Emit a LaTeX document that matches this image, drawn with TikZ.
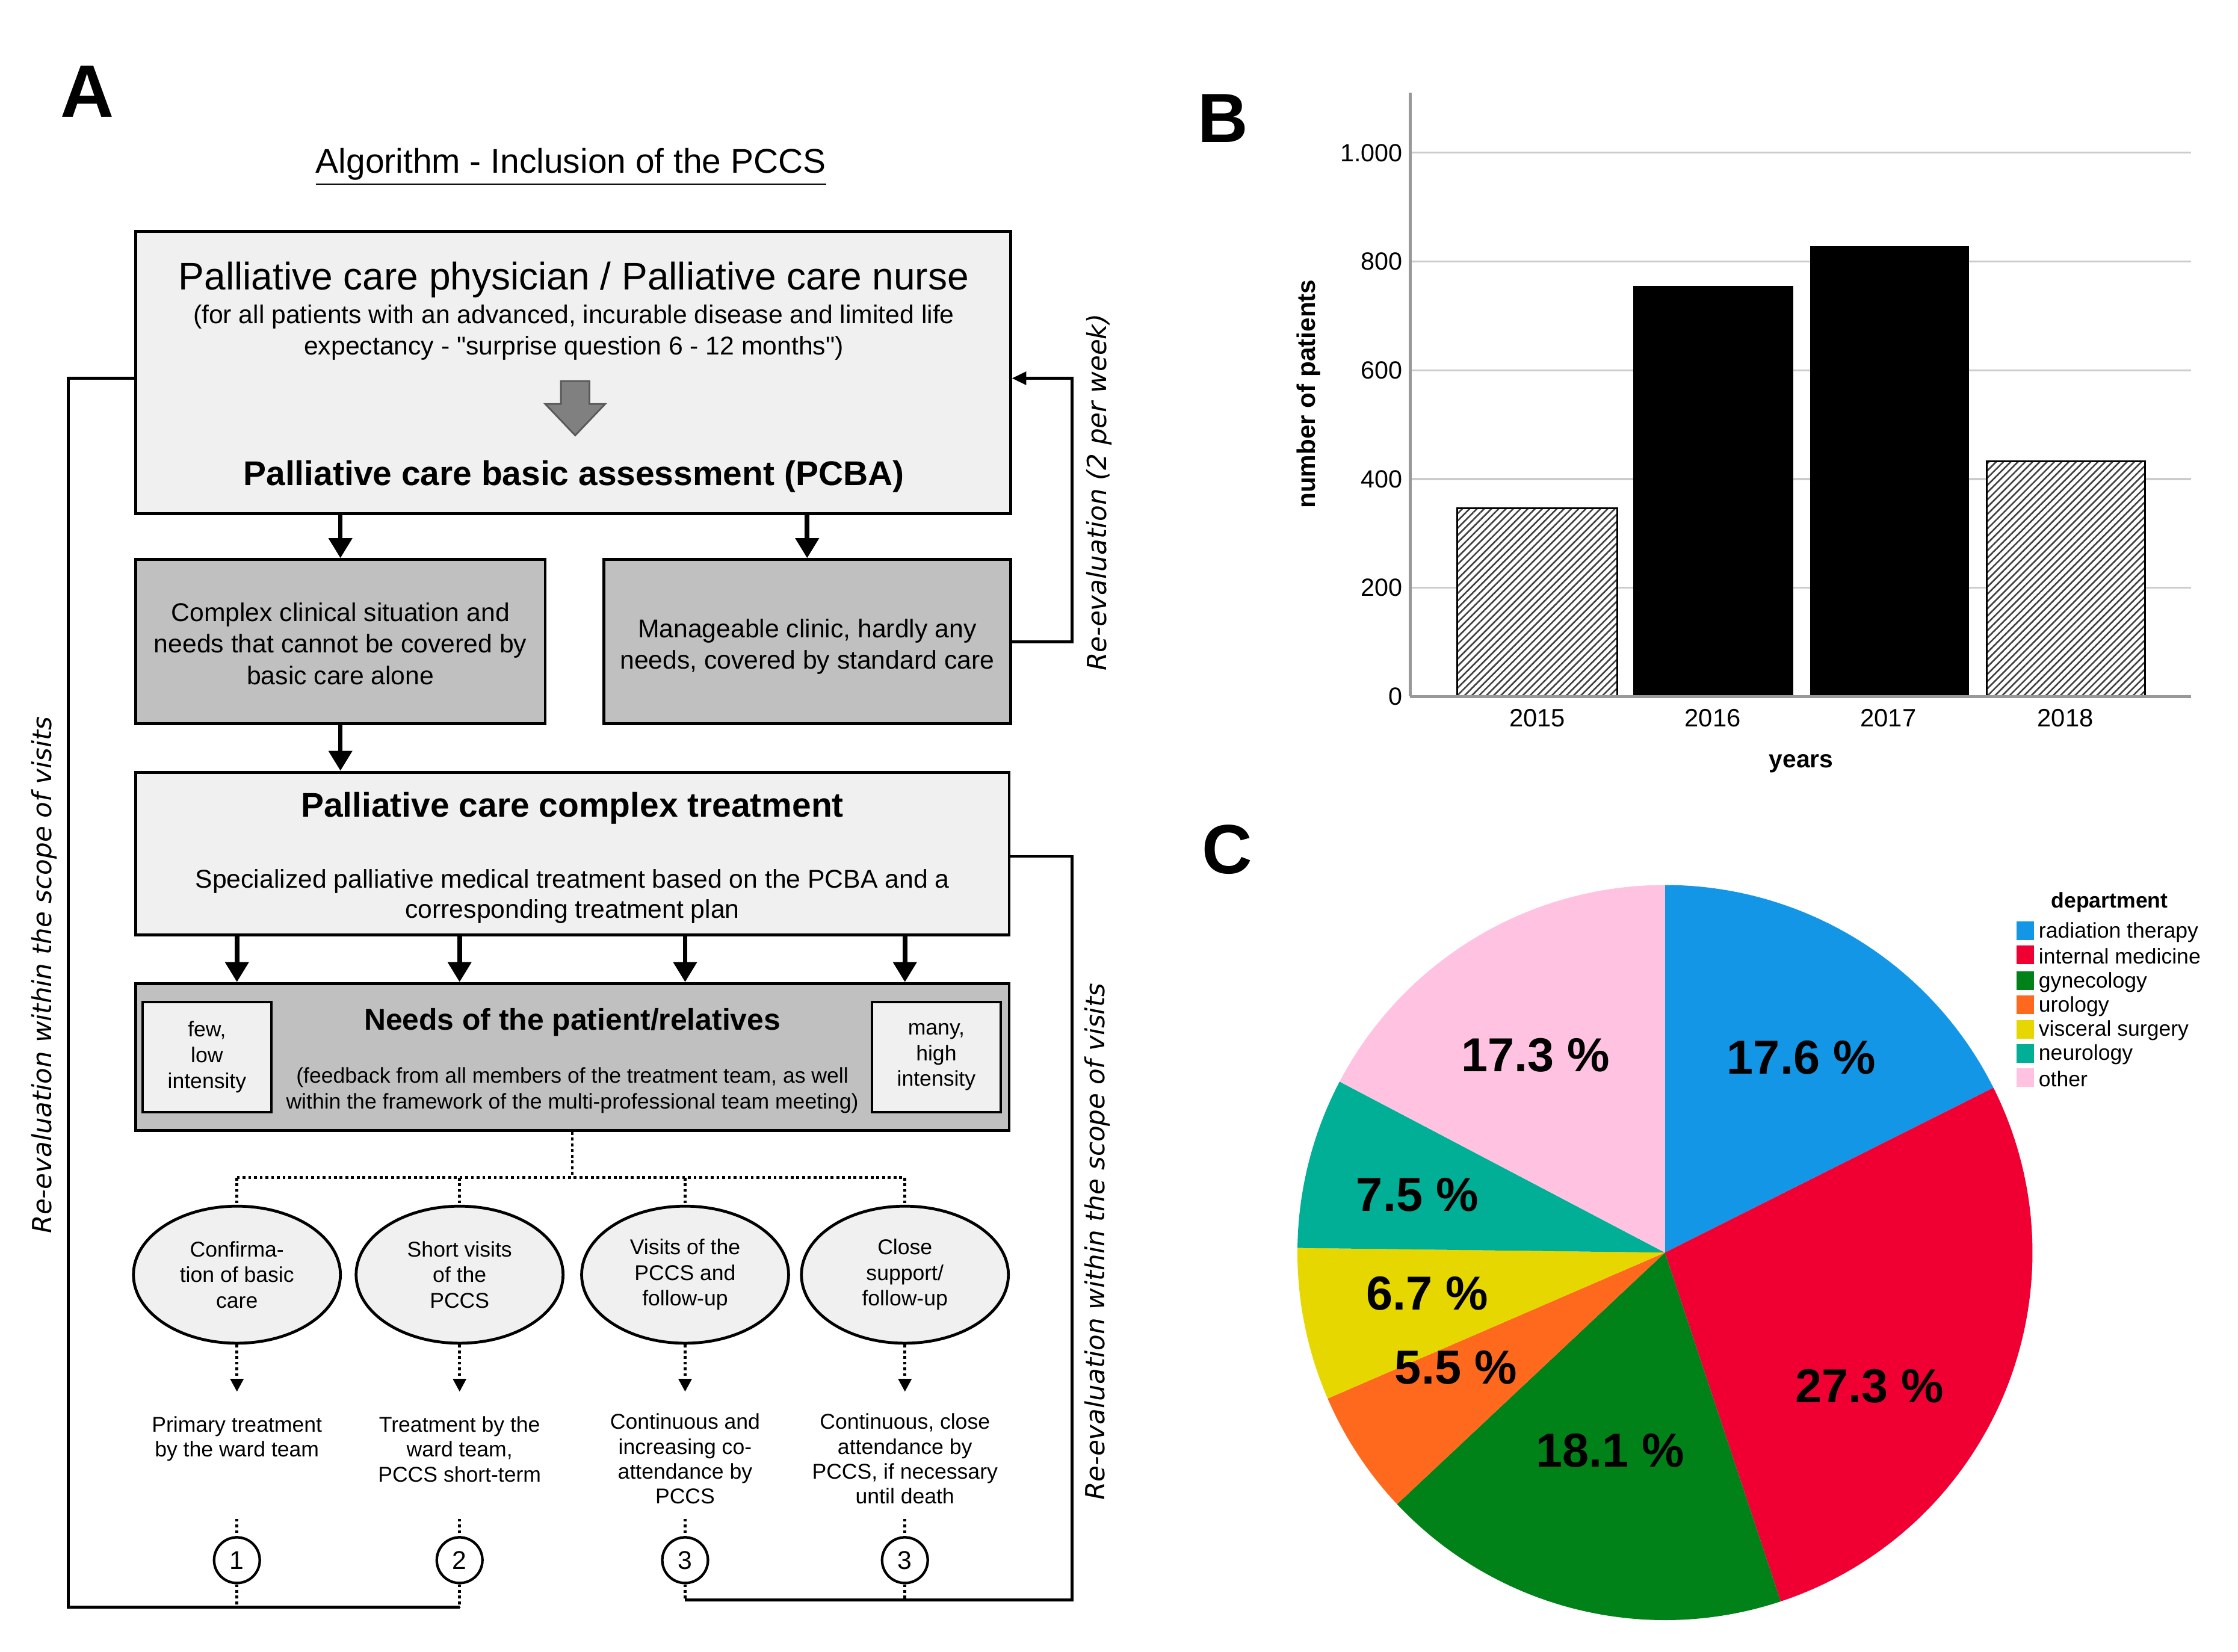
\documentclass[tikz,border=0pt]{standalone}
\usepackage{fontspec}
\setmainfont{Liberation Sans}[Ligatures=TeXOff]
\newfontfamily\dejavu{DejaVu Sans}
\usetikzlibrary{arrows.meta,patterns.meta,shapes.geometric}
\newcommand\fsz[2]{\fontsize{#1}{#2}\selectfont}
\definecolor{boxlight}{HTML}{F0F0F0}
\definecolor{boxdark}{HTML}{C0C0C0}
\definecolor{arrowgray}{HTML}{808080}
\definecolor{gridgray}{HTML}{CCCCCC}
\definecolor{axisgray}{HTML}{999999}
\definecolor{cblue}{HTML}{1496E6}
\definecolor{cred}{HTML}{F00032}
\definecolor{cgreen}{HTML}{008219}
\definecolor{corange}{HTML}{FF691E}
\definecolor{cyellow}{HTML}{E6D700}
\definecolor{cteal}{HTML}{00AF96}
\definecolor{cpink}{HTML}{FFC3E1}
\begin{document}
\begin{tikzpicture}[x=0.5pt,y=-0.5pt,
  lbox/.style={draw, line width=1pt, fill=boxlight, inner sep=0pt},
  dbox/.style={draw, line width=1pt, fill=boxdark, inner sep=0pt},
  txt/.style={inner sep=0pt, align=center},
  bigarrow/.style={line width=1.6pt, -{Triangle[length=7pt,width=8pt]}},
  loopline/.style={line width=1pt},
  dots/.style={densely dotted, line width=1pt},
  dotarrow/.style={densely dotted, line width=1pt, -{Triangle[length=4.5pt,width=4.5pt]}},
  ell/.style={ellipse, draw, line width=1pt, fill=boxlight, minimum width=72.5pt, minimum height=48pt, inner sep=0pt, align=center, font=\fsz{7.5}{9}},
  numc/.style={circle, draw, line width=0.9pt, fill=white, minimum size=16pt, inner sep=0pt, font=\fsz{9}{10}},
  smallbox/.style={draw, line width=0.9pt, fill=boxlight, minimum width=45pt, minimum height=38.5pt, inner sep=0pt, align=center, font=\fsz{7.5}{9}},
  undertext/.style={inner sep=0pt, align=center, anchor=north, font=\fsz{7.5}{8.7}},
  rottext/.style={inner sep=0pt, rotate=90, font=\dejavu\itshape\fsz{9.2}{11}},
  ticklab/.style={inner sep=0pt, anchor=east, font=\fsz{8.7}{10}},
  yearlab/.style={inner sep=0pt, font=\fsz{8.8}{10}},
  pielab/.style={inner sep=0pt, font=\bfseries\fsz{16.7}{18}},
  leglab/.style={inner sep=0pt, anchor=west, font=\fsz{7.5}{8.5}},
  hatchbar/.style={draw=black, line width=0.6pt, preaction={fill=white}, pattern={Lines[angle=45,distance=1.8pt,line width=0.55pt]}, pattern color=black!75},
  panel/.style={inner sep=0pt, font=\bfseries\fsz{25}{28}}
]
\useasboundingbox (0,0) rectangle (1568,1157);

% ---------------- Panel A ----------------
\node[panel, font=\bfseries\fsz{26}{28}] (pA) at (61,64) {A};
\node[txt, font=\fsz{12}{14}] (ttl) at (400,117) {\underline{Algorithm - Inclusion of the PCCS}};

\node[lbox, minimum width=306.5pt, minimum height=99pt] (b1) at (401.5,261) {};
\node[txt, font=\fsz{13.5}{15}] (t1a) at (402,196) {Palliative care physician / Palliative care nurse};
\node[txt, font=\fsz{9}{11}] (t1b) at (402,233) {(for all patients with an advanced, incurable disease and limited life\\expectancy - "surprise question 6 - 12 months")};
\filldraw[fill=arrowgray, draw=black!65, line width=0.6pt] (393,267) -- (413,267) -- (413,283) -- (424,283) -- (403,305) -- (382,283) -- (393,283) -- cycle;
\node[txt, font=\bfseries\fsz{12}{14}] (t1c) at (402,334) {Palliative care basic assessment (PCBA)};

\node[dbox, minimum width=143.5pt, minimum height=57.5pt] (b2) at (238.5,449.5) {};
\node[txt, font=\fsz{9}{11}] (t2) at (238.5,451) {Complex clinical situation and\\needs that cannot be covered by\\basic care alone};
\node[dbox, minimum width=142.5pt, minimum height=57.5pt] (b3) at (565.5,449.5) {};
\node[txt, font=\fsz{9}{11}] (t3) at (565.5,453) {Manageable clinic, hardly any\\needs, covered by standard care};

\node[lbox, minimum width=306pt, minimum height=57pt] (b4) at (401,598) {};
\node[txt, font=\bfseries\fsz{12}{14}] (t4a) at (401,566) {Palliative care complex treatment};
\node[txt, font=\fsz{9}{10.5}] (t4b) at (401,628) {Specialized palliative medical treatment based on the PCBA and a\\corresponding treatment plan};

\node[dbox, minimum width=306pt, minimum height=51.5pt] (b5) at (401,740.5) {};
\node[smallbox] (fl) at (145,740.5) {few,\\low\\intensity};
\node[smallbox] (fr) at (656,740.5) {many,\\high\\intensity};
\node[txt, font=\bfseries\fsz{10.5}{12}] (t5a) at (401,716) {Needs of the patient/relatives};
\node[txt, font=\fsz{7.5}{9}] (t5b) at (401,764) {(feedback from all members of the treatment team, as well\\within the framework of the multi-professional team meeting)};

\node[ell] (e1) at (166,893) {Confirma-\\tion of basic\\care};
\node[ell] (e2) at (322,893) {Short visits\\of the\\PCCS};
\node[ell] (e3) at (480,893) {Visits of the\\PCCS and\\follow-up};
\node[ell] (e4) at (634,893) {Close\\support/\\follow-up};

\node[undertext] (d1) at (166,992) {Primary treatment\\by the ward team};
\node[undertext] (d2) at (322,992) {Treatment by the\\ward team,\\PCCS short-term};
\node[undertext] (d3) at (480,990) {Continuous and\\increasing co-\\attendance by\\PCCS};
\node[undertext] (d4) at (634,990) {Continuous, close\\attendance by\\PCCS, if necessary\\until death};

\node[numc] (c1) at (166,1093) {1};
\node[numc] (c2) at (322,1093) {2};
\node[numc] (c3) at (480,1093) {3};
\node[numc] (c4) at (634,1093) {3};

% main arrows
\draw[bigarrow] (b2.north |- b1.south) -- (b2.north);
\draw[bigarrow] (b3.north |- b1.south) -- (b3.north);
\draw[bigarrow] (b2.south) -- (b2.south |- b4.north);
\foreach \e in {e1,e2,e3,e4}{
  \draw[bigarrow] (\e |- b4.south) -- (\e |- b5.north);
}

% re-evaluation 2 per week
\coordinate (rv1) at (751,265);
\draw[loopline, -{Triangle[length=5pt,width=4.5pt]}] (b3.east) -| (rv1) -- (b1.east |- rv1);
\node[rottext] (rvm) at (770,345) {Re-evaluation (2 per week)};

% dotted tree
\coordinate (tr) at (401,825);
\draw[dots] (b5.south) -- (tr);
\draw[dots] (e1 |- tr) -- (e4 |- tr);
\foreach \e in {e1,e2,e3,e4}{
  \draw[dots] (\e |- tr) -- (\e.north);
}

% dotted arrows ellipse -> text, text -> number
\coordinate (arw) at (0,975);
\coordinate (qtop) at (0,1064);
\foreach \e/\c in {e1/c1,e2/c2,e3/c3,e4/c4}{
  \draw[dotarrow] (\e.south) -- (\e |- arw);
  \draw[dots] (\c |- qtop) -- (\c.north);
}

% left loop
\coordinate (ll) at (48,1126);
\coordinate (lt) at (48,265);
\draw[dots] (c1.south) -- (c1 |- ll);
\draw[dots] (c2.south) -- (c2 |- ll);
\draw[loopline] (c2 |- ll) -- (ll) -- (lt) -- (b1.west |- lt);
\node[rottext] (rvl) at (31,683) {Re-evaluation within the scope of visits};

% right loop
\coordinate (rl) at (751,1121);
\coordinate (rt) at (751,600);
\draw[dots] (c3.south) -- (c3 |- rl);
\draw[dots] (c4.south) -- (c4 |- rl);
\draw[loopline] (c3 |- rl) -- (rl) -- (rt) -- (b4.east |- rt);
\node[rottext] (rvr) at (769,870) {Re-evaluation within the scope of visits};

% ---------------- Panel B ----------------
\node[panel, font=\bfseries\fsz{24.4}{27}] (pB) at (857,83) {B};
\foreach \v/\yy/\lab in {200/411.8/200,400/335.6/400,600/259.4/600,800/183.2/800,1000/107/1.000}{
  \draw[gridgray, line width=0.7pt] (988,\yy) -- (1535,\yy);
  \node[ticklab] (tk\v) at (983,\yy) {\lab};
}
\node[ticklab] (tk0) at (983,488) {0};
\filldraw[hatchbar] (1021,488) rectangle (1133,356);
\filldraw[fill=black, draw=black, line width=0.6pt] (1145,488) rectangle (1256,201);
\filldraw[fill=black, draw=black, line width=0.6pt] (1269,488) rectangle (1379,173);
\filldraw[hatchbar] (1392,488) rectangle (1503,323);
\draw[axisgray, line width=1pt] (988,65) -- (988,488);
\draw[axisgray, line width=1.2pt] (988,488) -- (1535,488);
\node[yearlab] (y15) at (1077,503) {2015};
\node[yearlab] (y16) at (1200,503) {2016};
\node[yearlab] (y17) at (1323,503) {2017};
\node[yearlab] (y18) at (1447,503) {2018};
\node[inner sep=0pt, font=\bfseries\fsz{8.6}{10}] (xl) at (1262,535) {years};
\node[inner sep=0pt, rotate=90, font=\bfseries\fsz{8.9}{10}] (yl) at (917,276) {number of patients};

% ---------------- Panel C ----------------
\node[panel, font=\bfseries\fsz{24.4}{27}] (pC) at (860,595) {C};
\coordinate (pc) at (1166.5,877.5);
\fill[cblue]   (pc) -- ++(-90:257.5)   arc[start angle=-90,   end angle=-26.64, radius=257.5] -- cycle;
\fill[cred]    (pc) -- ++(-26.64:257.5) arc[start angle=-26.64, end angle=71.64,  radius=257.5] -- cycle;
\fill[cgreen]  (pc) -- ++(71.64:257.5)  arc[start angle=71.64,  end angle=136.8,  radius=257.5] -- cycle;
\fill[corange] (pc) -- ++(136.8:257.5)  arc[start angle=136.8,  end angle=156.6,  radius=257.5] -- cycle;
\fill[cyellow] (pc) -- ++(156.6:257.5)  arc[start angle=156.6,  end angle=180.72, radius=257.5] -- cycle;
\fill[cteal]   (pc) -- ++(180.72:257.5) arc[start angle=180.72, end angle=207.72, radius=257.5] -- cycle;
\fill[cpink]   (pc) -- ++(207.72:257.5) arc[start angle=207.72, end angle=270,    radius=257.5] -- cycle;
\node[pielab] (p1) at (1262,741) {17.6 \%};
\node[pielab] (p2) at (1310,971) {27.3 \%};
\node[pielab] (p3) at (1128,1016) {18.1 \%};
\node[pielab] (p4) at (1020,958) {5.5 \%};
\node[pielab] (p5) at (1000,906) {6.7 \%};
\node[pielab] (p6) at (993,837) {7.5 \%};
\node[pielab] (p7) at (1076,739) {17.3 \%};

% legend
\node[inner sep=0pt, font=\bfseries\fsz{7.5}{8.5}] (lgt) at (1478,632) {department};
\foreach \col/\yy/\lab/\n in {cblue/652/radiation therapy/1, cred/669/internal medicine/2, cgreen/687/gynecology/3, corange/704/urology/4, cyellow/721/visceral surgery/5, cteal/738/neurology/6, cpink/755/other/7}{
  \fill[\col] (1413,\yy-6.5) rectangle (1425,\yy+6.5);
  \node[leglab] (lg\n) at (1428,\yy+1) {\lab};
}
\end{tikzpicture}
\end{document}
